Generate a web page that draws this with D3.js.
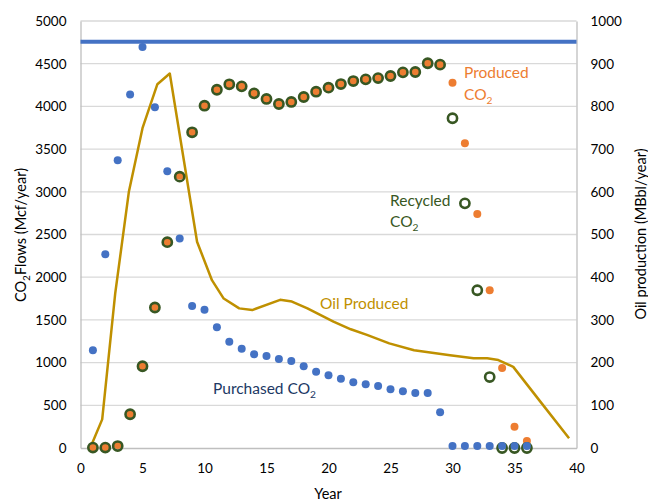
<!DOCTYPE html>
<html>
<head>
<meta charset="utf-8">
<script src="https://cdn.jsdelivr.net/npm/d3@7"></script>
<style>
  body { margin: 0; background: #fff; }
  text { font-family: Lato, "Open Sans", sans-serif; }
</style>
</head>
<body>
<div id="chart"></div>
<script>
// values
const years = [1, 2, 3, 4, 5, 6, 7, 8, 9, 10, 11, 12, 13, 14, 15, 16, 17, 18,
  19, 20, 21, 22, 23, 24, 25, 26, 27, 28, 29, 30, 31, 32, 33, 34, 35, 36];
const purchasedCO2 = [1145, 2270, 3370, 4138, 4695, 3990, 3242, 2453, 1663, 1618, 1413, 1245,
  1163, 1097, 1077, 1042, 1019, 956, 893, 851, 812, 770, 746, 726, 687, 664, 644, 644, 418,
  23, 23, 23, 23, 23, 23, 23];
const producedCO2 = [5, 5, 35, 398, 957, 1651, 2410, 3189, 3697, 4008, 4195, 4259, 4235,
  4153, 4087, 4028, 4052, 4110, 4172, 4219, 4262, 4297, 4317, 4332, 4356, 4399, 4403, 4505,
  4489, 4278, 3568, 2740, 1847, 937, 250, 82];
const recycledCO2 = [5, 5, 23, 395, 957, 1645, 2410, 3177, 3697, 4008, 4195, 4259, 4235,
  4153, 4087, 4028, 4052, 4110, 4172, 4219, 4262, 4297, 4317, 4332, 4356, 4399, 4403, 4505,
  4489, 3861, 2865, 1847, 831, 0, 0, 0];
const purchaseLimit = 4757;

const oilYears = [0.9, 1.75, 2.8, 3.9, 5.0, 6.2, 7.2, 9.4, 10.6, 11.55, 12.8, 13.85, 16.1,
  17.05, 18.3, 20.4, 21.8, 23.1, 24.9, 26.9, 29.8, 31.7, 32.8, 33.7, 34.9, 37.1, 39.4];
const oilProduced = [8, 67, 362, 600, 749, 852, 877, 483, 393, 350, 327, 323, 347, 343, 327,
  296, 278, 265, 245, 229, 217, 210, 210, 206, 190, 108, 23];

const xTicks = [0, 5, 10, 15, 20, 25, 30, 35, 40];
const leftTicks = [0, 500, 1000, 1500, 2000, 2500, 3000, 3500, 4000, 4500, 5000];
const rightTicks = [0, 100, 200, 300, 400, 500, 600, 700, 800, 900, 1000];

const width = 648, height = 501;
const plotLeft = 80.5, plotRight = 576.5, plotTop = 21, plotBottom = 448;

const svg = d3.select("#chart").append("svg")
    .attr("width", width)
    .attr("height", height);

const x = d3.scaleLinear().domain([0, 40]).range([plotLeft, plotRight]);
const y = d3.scaleLinear().domain([0, 5000]).range([plotBottom, plotTop]);
const y2 = d3.scaleLinear().domain([0, 1000]).range([plotBottom, plotTop]);

// gridlines
svg.append("g")
    .selectAll("line")
    .data(leftTicks.slice(1))
    .enter()
    .append("line")
    .attr("x1", plotLeft).attr("x2", plotRight)
    .attr("y1", d => y(d)).attr("y2", d => y(d))
    .attr("stroke", "#d9d9d9")
    .attr("stroke-width", 1.3);

// axes
const fmt = d3.format("d");
const xAxis = svg.append("g")
    .attr("transform", `translate(0,${plotBottom})`)
    .call(d3.axisBottom(x).tickValues(xTicks).tickFormat(fmt).tickSize(0).tickPadding(15));
const yAxis = svg.append("g")
    .attr("transform", `translate(${plotLeft},0)`)
    .call(d3.axisLeft(y).tickValues(leftTicks).tickFormat(fmt).tickSize(0).tickPadding(14));
const y2Axis = svg.append("g")
    .attr("transform", `translate(${plotRight},0)`)
    .call(d3.axisRight(y2).tickValues(rightTicks).tickFormat(fmt).tickSize(0).tickPadding(14));

[xAxis, yAxis, y2Axis].forEach(g => {
  g.select(".domain").attr("stroke", "#bfbfbf").attr("stroke-width", 1.3);
  g.selectAll("text")
      .attr("fill", "#000")
      .style("font-size", "13.5px")
      .style("font-family", "Lato, sans-serif");
});

// purchase limit line
svg.append("line")
    .attr("x1", x(0)).attr("x2", x(40))
    .attr("y1", y(purchaseLimit)).attr("y2", y(purchaseLimit))
    .attr("stroke", "#4472c4")
    .attr("stroke-width", 4);

// oil produced line (right axis)
const oilLine = d3.line()
    .x((d, i) => x(oilYears[i]))
    .y(d => y2(d));

svg.append("path")
    .datum(oilProduced)
    .attr("fill", "none")
    .attr("stroke", "#bf9000")
    .attr("stroke-width", 2.5)
    .attr("stroke-linejoin", "round")
    .attr("d", oilLine);

// produced CO2
svg.append("g")
    .selectAll("circle")
    .data(producedCO2)
    .enter()
    .append("circle")
    .attr("cx", (d, i) => x(years[i]))
    .attr("cy", d => y(d))
    .attr("r", 4)
    .attr("fill", "#ed7d31");

// recycled CO2 (hollow rings)
svg.append("g")
    .selectAll("circle")
    .data(recycledCO2)
    .enter()
    .append("circle")
    .attr("cx", (d, i) => x(years[i]))
    .attr("cy", d => y(d))
    .attr("r", 4.6)
    .attr("fill", "none")
    .attr("stroke", "#385723")
    .attr("stroke-width", 2.6);

// purchased CO2
svg.append("g")
    .selectAll("circle")
    .data(purchasedCO2)
    .enter()
    .append("circle")
    .attr("cx", (d, i) => x(years[i]))
    .attr("cy", d => y(d))
    .attr("r", 4)
    .attr("fill", "#4472c4");

// labels with subscript 2
function co2Label(tx, ty, pre, color, size) {
  const t = svg.append("text")
      .attr("x", tx).attr("y", ty)
      .attr("fill", color)
      .style("font-size", size + "px");
  t.append("tspan").text(pre + "CO");
  t.append("tspan").attr("dy", 4).style("font-size", (size * 0.66) + "px").text("2");
  return t;
}

svg.append("text")
    .attr("x", 464).attr("y", 78)
    .attr("fill", "#ed7d31")
    .style("font-size", "15.5px")
    .text("Produced");
co2Label(464, 100, "", "#ed7d31", 15.5);

svg.append("text")
    .attr("x", 390).attr("y", 206)
    .attr("fill", "#385723")
    .style("font-size", "15.5px")
    .text("Recycled");
co2Label(390, 227, "", "#385723", 15.5);

svg.append("text")
    .attr("x", 320).attr("y", 309)
    .attr("fill", "#bf9000")
    .style("font-size", "15.5px")
    .text("Oil Produced");

co2Label(213, 394, "Purchased ", "#203864", 15.5);

// axis titles
const leftTitle = svg.append("text")
    .attr("transform", "translate(26,235) rotate(-90)")
    .attr("text-anchor", "middle")
    .attr("fill", "#000")
    .style("font-size", "14.5px");
leftTitle.append("tspan").text("CO");
leftTitle.append("tspan").attr("dy", 4).style("font-size", "10px").text("2");
leftTitle.append("tspan").attr("dy", -4).text("Flows (Mcf/year)");

svg.append("text")
    .attr("transform", "translate(646,234) rotate(-90)")
    .attr("text-anchor", "middle")
    .attr("fill", "#000")
    .style("font-size", "14.5px")
    .text("Oil production (MBbl/year)");

svg.append("text")
    .attr("x", 328).attr("y", 499)
    .attr("text-anchor", "middle")
    .attr("fill", "#000")
    .style("font-size", "14.5px")
    .text("Year");
</script>
</body>
</html>
